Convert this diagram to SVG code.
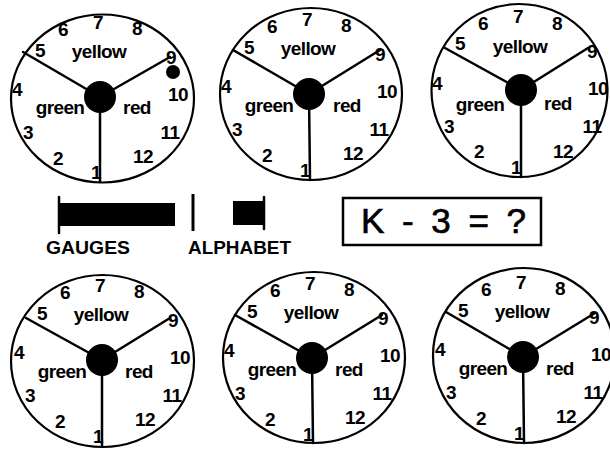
<svg xmlns="http://www.w3.org/2000/svg" width="610" height="453" viewBox="0 0 610 453">
<style>
.rim{fill:none;stroke:#000;stroke-width:2.2}
.spk{stroke:#000;stroke-width:2.5;stroke-linecap:round}
.hub{fill:#000}
.t{font-family:"Liberation Sans",Arial,sans-serif;font-weight:bold;font-size:19px;text-anchor:middle;fill:#000;letter-spacing:-0.6px}
.lab{font-family:"Liberation Sans",Arial,sans-serif;font-weight:bold;font-size:18px;fill:#000}
.eq{font-family:"Liberation Sans",Arial,sans-serif;font-size:35px;fill:#000;stroke:#000;stroke-width:0.7}
</style>
<rect width="610" height="453" fill="#fff"/>

<g id="dial1">
<ellipse class="rim" cx="102.5" cy="98.5" rx="91.5" ry="84"/>
<g class="spokes">
<line class="spk" x1="100" y1="97" x2="100" y2="182"/>
<line class="spk" x1="100" y1="97" x2="23" y2="52"/>
<line class="spk" x1="100" y1="97" x2="170" y2="57"/>
</g>
<circle class="hub" cx="100" cy="97" r="16"/>
<g transform="translate(100,97)">
<text class="t" x="-2" y="-68">7</text><text class="t" x="-37" y="-61">6</text><text class="t" x="37" y="-62">8</text>
<text class="t" x="-60" y="-40">5</text><text class="t" x="-1" y="-39">yellow</text><text class="t" x="71" y="-33">9</text>
<text class="t" x="-83" y="-1">4</text><text class="t" x="78" y="4">10</text>
<text class="t" x="-40" y="17">green</text><text class="t" x="37" y="17">red</text>
<text class="t" x="-72" y="42">3</text><text class="t" x="70" y="42">11</text>
<text class="t" x="-42" y="68">2</text><text class="t" x="43" y="66">12</text><text class="t" x="-4" y="82">1</text>
</g>
<circle class="hub" cx="173" cy="72" r="7"/>
</g>

<g id="dial2">
<ellipse class="rim" cx="311" cy="94" rx="91" ry="86"/>
<g class="spokes">
<line class="spk" x1="309" y1="94" x2="310" y2="180"/>
<line class="spk" x1="309" y1="94" x2="233" y2="50"/>
<line class="spk" x1="309" y1="94" x2="380" y2="50"/>
</g>
<circle class="hub" cx="309" cy="94" r="16"/>
<g transform="translate(309,94)">
<text class="t" x="-2" y="-68">7</text><text class="t" x="-37" y="-61">6</text><text class="t" x="37" y="-62">8</text>
<text class="t" x="-60" y="-40">5</text><text class="t" x="-1" y="-39">yellow</text><text class="t" x="71" y="-33">9</text>
<text class="t" x="-83" y="-1">4</text><text class="t" x="78" y="4">10</text>
<text class="t" x="-40" y="18">green</text><text class="t" x="38" y="18">red</text>
<text class="t" x="-72" y="42">3</text><text class="t" x="70" y="42">11</text>
<text class="t" x="-42" y="68">2</text><text class="t" x="44" y="66">12</text><text class="t" x="-4" y="83">1</text>
</g>
</g>

<g id="dial3">
<ellipse class="rim" cx="519.5" cy="90.5" rx="88" ry="86.5"/>
<g class="spokes">
<line class="spk" x1="521" y1="90" x2="521" y2="177"/>
<line class="spk" x1="521" y1="90" x2="445" y2="48"/>
<line class="spk" x1="521" y1="90" x2="588" y2="48"/>
</g>
<circle class="hub" cx="521" cy="90" r="16"/>
<g transform="translate(521,90)">
<text class="t" x="-3" y="-67">7</text><text class="t" x="-38" y="-60">6</text><text class="t" x="36" y="-60">8</text>
<text class="t" x="-61" y="-40">5</text><text class="t" x="-1" y="-37">yellow</text><text class="t" x="71" y="-32">9</text>
<text class="t" x="-84" y="0">4</text><text class="t" x="77" y="5">10</text>
<text class="t" x="-41" y="21">green</text><text class="t" x="37" y="20">red</text>
<text class="t" x="-72" y="43">3</text><text class="t" x="71" y="43">11</text>
<text class="t" x="-42" y="68">2</text><text class="t" x="42" y="68">12</text><text class="t" x="-5" y="84">1</text>
</g>
</g>

<g id="dial4">
<ellipse class="rim" cx="102.5" cy="361" rx="91.5" ry="86"/>
<g class="spokes">
<line class="spk" x1="102" y1="360" x2="102" y2="446"/>
<line class="spk" x1="102" y1="360" x2="26" y2="318"/>
<line class="spk" x1="102" y1="360" x2="170" y2="318"/>
</g>
<circle class="hub" cx="102" cy="360" r="16"/>
<g transform="translate(102,360)">
<text class="t" x="-2" y="-68">7</text><text class="t" x="-37" y="-61">6</text><text class="t" x="37" y="-62">8</text>
<text class="t" x="-60" y="-40">5</text><text class="t" x="-1" y="-39">yellow</text><text class="t" x="71" y="-33">9</text>
<text class="t" x="-83" y="-1">4</text><text class="t" x="78" y="4">10</text>
<text class="t" x="-40" y="18">green</text><text class="t" x="37" y="18">red</text>
<text class="t" x="-72" y="42">3</text><text class="t" x="70" y="42">11</text>
<text class="t" x="-42" y="68">2</text><text class="t" x="43" y="66">12</text><text class="t" x="-4" y="83">1</text>
</g>
</g>

<g id="dial5">
<ellipse class="rim" cx="314" cy="357.5" rx="91" ry="85.5"/>
<g class="spokes">
<line class="spk" x1="312" y1="358" x2="313" y2="443"/>
<line class="spk" x1="312" y1="358" x2="235" y2="315"/>
<line class="spk" x1="312" y1="358" x2="382" y2="315"/>
</g>
<circle class="hub" cx="312" cy="358" r="16"/>
<g transform="translate(312,358)">
<text class="t" x="-2" y="-68">7</text><text class="t" x="-37" y="-61">6</text><text class="t" x="37" y="-62">8</text>
<text class="t" x="-60" y="-40">5</text><text class="t" x="-1" y="-39">yellow</text><text class="t" x="71" y="-33">9</text>
<text class="t" x="-83" y="-1">4</text><text class="t" x="78" y="4">10</text>
<text class="t" x="-40" y="18">green</text><text class="t" x="37" y="18">red</text>
<text class="t" x="-72" y="42">3</text><text class="t" x="70" y="42">11</text>
<text class="t" x="-42" y="68">2</text><text class="t" x="43" y="66">12</text><text class="t" x="-4" y="83">1</text>
</g>
</g>

<g id="dial6">
<ellipse class="rim" cx="524" cy="355.5" rx="91" ry="87.5"/>
<g class="spokes">
<line class="spk" x1="523" y1="357" x2="524" y2="443"/>
<line class="spk" x1="523" y1="357" x2="446" y2="312"/>
<line class="spk" x1="523" y1="357" x2="595" y2="313"/>
</g>
<circle class="hub" cx="523" cy="357" r="16"/>
<g transform="translate(523,357)">
<text class="t" x="-2" y="-68">7</text><text class="t" x="-37" y="-61">6</text><text class="t" x="37" y="-62">8</text>
<text class="t" x="-60" y="-40">5</text><text class="t" x="-1" y="-39">yellow</text><text class="t" x="71" y="-33">9</text>
<text class="t" x="-83" y="-1">4</text><text class="t" x="78" y="4">10</text>
<text class="t" x="-40" y="18">green</text><text class="t" x="37" y="18">red</text>
<text class="t" x="-72" y="42">3</text><text class="t" x="70" y="42">11</text>
<text class="t" x="-42" y="68">2</text><text class="t" x="43" y="66">12</text><text class="t" x="-4" y="83">1</text>
</g>
</g>

<g id="gauges">
<line class="spk" x1="59" y1="197" x2="59" y2="233"/>
<rect x="60" y="203" width="115" height="23" fill="#000"/>
<text class="lab" x="46" y="254" textLength="84" lengthAdjust="spacingAndGlyphs">GAUGES</text>
</g>
<g id="separator">
<line x1="193" y1="194" x2="193" y2="231" stroke="#000" stroke-width="3"/>
</g>
<g id="alphabet">
<rect x="233" y="201" width="31" height="24" fill="#000"/>
<line class="spk" x1="264" y1="197" x2="264" y2="229"/>
<text class="lab" x="188" y="254" textLength="103" lengthAdjust="spacingAndGlyphs">ALPHABET</text>
</g>
<g id="question">
<rect x="343" y="198" width="198" height="47" fill="none" stroke="#000" stroke-width="2.5"/>
<text class="eq" x="361" y="233" textLength="165" lengthAdjust="spacing">K - 3 = ?</text>
</g>
</svg>
